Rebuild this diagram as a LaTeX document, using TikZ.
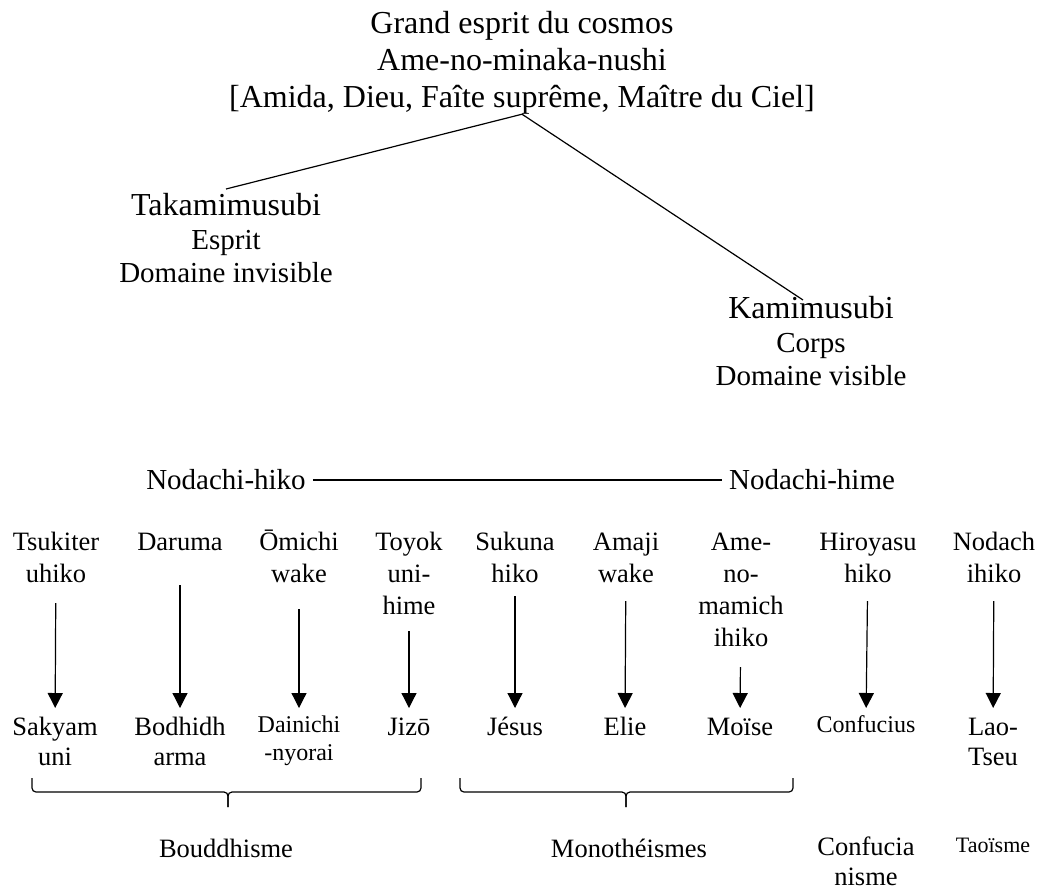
\documentclass[tikz,border=0pt]{standalone}
\usepackage{fontspec}
\setmainfont{Liberation Serif}
\usetikzlibrary{arrows.meta}

\newcommand\fbig{\fontsize{16}{18.4}\selectfont}
\newcommand\fmid{\fontsize{14.5}{16.8}\selectfont}
\newcommand\fnorm{\fontsize{13.25}{16}\selectfont}
\newcommand\ftgt{\fontsize{13.25}{15}\selectfont}
\newcommand\fsmall{\fontsize{12}{14}\selectfont}
\newcommand\ftiny{\fontsize{11}{13}\selectfont}
% fixed height above the first baseline of every label
\newcommand\lift{\rule{0pt}{12pt}}

\begin{document}
\begin{tikzpicture}[
                x=0.5pt, y=-0.5pt,
                txt/.style={inner sep=0, align=center, anchor=north},
                link/.style={line width=0.6pt},
                arr/.style={-{Triangle[width=7.5pt,length=7.5pt]}, line width=0.6pt, shorten >=1.5pt},
                brace/.style={line width=0.6pt, rounded corners=2pt},
            ]
                \useasboundingbox (0, 0) rectangle (1038, 890);
                % top of the tree
                \node[txt, font=\fbig] (cosmos) at (522, 9) {\lift Grand esprit du cosmos\\Ame-no-minaka-nushi\\{[}Amida, Dieu, Faîte suprême, Maître du Ciel]};
                \node[txt, font=\fmid] (taka) at (226, 191) {\lift{\fbig Takamimusubi}\\Esprit\\Domaine invisible};
                \node[txt, font=\fmid] (kami) at (811, 294) {\lift{\fbig Kamimusubi}\\Corps\\Domaine visible};
                \path[link] (cosmos.south) edge ([yshift=1pt]taka.north);
                \path[link] (cosmos.south) edge ([xshift=-4pt, yshift=-3pt]kami.north);
                \node[font=\fmid] (hiko) at (226, 480) {Nodachi-hiko};
                \node[font=\fmid] (hime) at (812, 480) {Nodachi-hime};
                \path[link] (hiko.east) edge (hime.west);
                % the kami
                \node[txt, font=\fnorm] (tsu) at (56, 526) {\lift Tsukiter\\uhiko};
                \node[txt, font=\fnorm] (dar) at (180, 526) {\lift Daruma};
                \node[txt, font=\fnorm] (omi) at (299, 526) {\lift Ōmichi\\wake};
                \node[txt, font=\fnorm] (toy) at (409, 526) {\lift Toyok\\uni-\\hime};
                \node[txt, font=\fnorm] (suk) at (515, 526) {\lift Sukuna\\hiko};
                \node[txt, font=\fnorm] (ama) at (626, 526) {\lift Amaji\\wake};
                \node[txt, font=\fnorm] (ame) at (741, 526) {\lift Ame-\\no-\\mamich\\ihiko};
                \node[txt, font=\fnorm] (hir) at (868, 526) {\lift Hiroyasu\\hiko};
                \node[txt, font=\fnorm] (nod) at (994, 526) {\lift Nodach\\ihiko};
                % the founders
                \node[txt, font=\ftgt] (sak) at (55, 711) {\lift Sakyam\\uni};
                \node[txt, font=\ftgt] (bod) at (180, 711) {\lift Bodhidh\\arma};
                \node[txt, font=\fsmall] (dai) at (299, 708) {\lift Dainichi\\-nyorai};
                \node[txt, font=\ftgt] (jiz) at (409, 711) {\lift Jizō};
                \node[txt, font=\ftgt] (jes) at (515, 711) {\lift Jésus};
                \node[txt, font=\ftgt] (eli) at (625, 711) {\lift Elie};
                \node[txt, font=\ftgt] (moi) at (740, 711) {\lift Moïse};
                \node[txt, font=\fsmall] (con) at (866, 708) {\lift Confucius};
                \node[txt, font=\ftgt] (lao) at (993, 711) {\lift Lao-\\Tseu};
                \path[arr, shorten <=10pt] (tsu) edge (sak);
                \path[arr, shorten <=17pt] (dar) edge (bod);
                \path[arr, shorten <=13pt, shorten >=0pt] (omi) edge (dai);
                \path[arr, shorten <=8pt] (toy) edge (jiz);
                \path[arr, shorten <=6.5pt] (suk) edge (jes);
                \path[arr, shorten <=9pt] (ama) edge (eli);
                \path[arr, shorten <=10pt] (ame) edge (moi);
                \path[arr, shorten <=9pt, shorten >=0pt] (hir) edge (con);
                \path[arr, shorten <=9pt] (nod) edge (lao);
                % braces and religions
                \draw[brace] (32, 778) |- (228, 792) -- (228, 807);
                \draw[brace] (421, 778) |- (228, 792) -- (228, 807);
                \draw[brace] (460, 778) |- (626, 792) -- (626, 807);
                \draw[brace] (793, 778) |- (626, 792) -- (626, 807);
                \node[txt, font=\fnorm] (bou) at (226, 833) {\lift Bouddhisme};
                \node[txt, font=\fnorm] (mono) at (629, 833) {\lift Monothéismes};
                \node[txt, font=\fontsize{13.25}{15}\selectfont] (confu) at (866, 831) {\lift Confucia\\nisme};
                \node[txt, font=\ftiny] (tao) at (993, 828) {\lift Taoïsme};
            \end{tikzpicture}
\end{document}
